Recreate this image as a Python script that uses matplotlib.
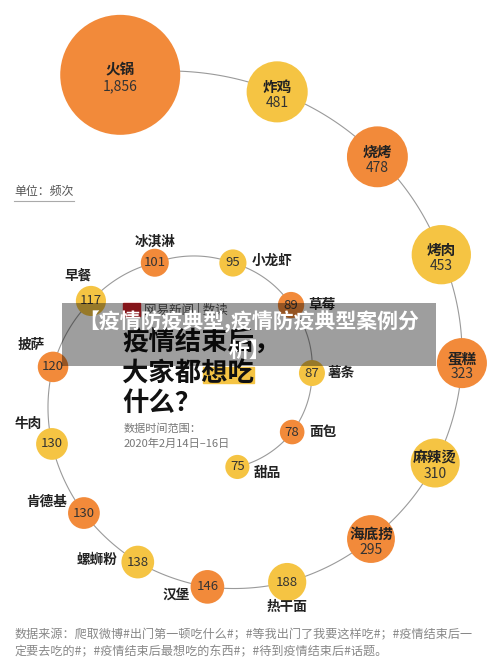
import numpy as np
import matplotlib.pyplot as plt
from matplotlib.patches import Circle, Rectangle

plt.rcParams['font.family'] = ['Noto Sans CJK SC', 'DejaVu Sans']

# Dados (频次)
nomes = ['火锅', '炸鸡', '烧烤', '烤肉', '蛋糕', '麻辣烫', '海底捞', '热干面', '汉堡', '螺蛳粉',
         '肯德基', '牛肉', '披萨', '早餐', '冰淇淋', '小龙虾', '草莓', '薯条', '面包', '甜品']
valores = [1856, 481, 478, 453, 323, 310, 295, 188, 146, 138,
           130, 130, 120, 117, 101, 95, 89, 87, 78, 75]

# Layout da espiral (ângulo em graus, raio em px) em torno de um centro
centro = (215, 370)
espiral_ang = [107.8, 77.4, 52.7, 27.0, 1.6, -22.9, -47.3, -71.2, -92.0, -111.9,
               -132.5, -155.6, -181.1, -209.1, -240.7, -279.5, -319.5, -361.8, -398.8, -437.0]
espiral_r = [310, 285, 268, 254, 247, 239, 230, 224, 217, 207,
             194, 179, 162, 142, 123, 108.5, 100, 97, 99, 99.5]

# posição do nome fora da bolha (dx, dy, ha) para as bolhas pequenas
rotulos = {
    '热干面': (0, 25, 'center'), '汉堡': (-18, 8, 'right'), '螺蛳粉': (-20, -2, 'right'),
    '肯德基': (-17, -11, 'right'), '牛肉': (-10, -20, 'right'), '披萨': (-8, -22, 'right'),
    '早餐': (-13, -25, 'center'), '冰淇淋': (0, -21, 'center'), '小龙虾': (19, -2, 'left'),
    '草莓': (17, 0, 'left'), '薯条': (16, 0, 'left'), '面包': (17, 0, 'left'),
    '甜品': (16, 6, 'left'),
}

laranja = '#F28A3A'
amarelo = '#F5C443'

fig = plt.figure(figsize=(5, 6.69), dpi=100)
ax = fig.add_axes([0, 0, 1, 1])
ax.set_xlim(0, 500)
ax.set_ylim(669, 0)
ax.axis('off')

ang = np.radians(espiral_ang)
rr = np.array(espiral_r)
xs = centro[0] + rr * np.cos(ang)
ys = centro[1] - rr * np.sin(ang)

# linha da espiral ligando as bolhas
for i in range(len(nomes) - 1):
    t = np.linspace(0, 1, 40)
    a = ang[i] + (ang[i + 1] - ang[i]) * t
    r = rr[i] + (rr[i + 1] - rr[i]) * t
    ax.plot(centro[0] + r * np.cos(a), centro[1] - r * np.sin(a), color='#9a9a9a', lw=0.8, zorder=1)

raio_max = 60
for i, (nome, v) in enumerate(zip(nomes, valores)):
    raio = raio_max * np.sqrt(v / valores[0])
    cor = laranja if i % 2 == 0 else amarelo
    ax.add_patch(Circle((xs[i], ys[i]), raio, color=cor, zorder=2, lw=0))
    txt = f'{v:,}'
    if nome in rotulos:
        ax.text(xs[i], ys[i], txt, ha='center', va='center', fontsize=9.5, color='#333333', zorder=3)
        dx, dy, ha = rotulos[nome]
        ax.text(xs[i] + dx, ys[i] + dy, nome, ha=ha, va='center', fontsize=9.8,
                fontweight='bold', color='#222222', zorder=3)
    else:
        ax.text(xs[i], ys[i] - 5, nome, ha='center', va='center', fontsize=10.5,
                fontweight='bold', color='#222222', zorder=3)
        ax.text(xs[i], ys[i] + 11, txt, ha='center', va='center', fontsize=10,
                color='#333333', zorder=3)

# unidade
ax.text(14, 192, '单位：频次', ha='left', va='center', fontsize=8.6, color='#555555')
ax.plot([14, 74], [201, 201], color='#aaaaaa', lw=0.8)

# título central
ax.add_patch(Rectangle((123, 303), 17, 13, color='#d8232a', zorder=2))
ax.text(144, 310, '网易新闻 | 数读', ha='left', va='center', fontsize=9, color='#555555', zorder=2)
ax.text(122, 343, '疫情结束后，', ha='left', va='center', fontsize=19, fontweight='bold', color='#111111')
ax.add_patch(Rectangle((203, 367), 51, 16, color=amarelo, zorder=1))
ax.text(122, 373, '大家都想吃', ha='left', va='center', fontsize=19, fontweight='bold', color='#111111', zorder=2)
ax.text(122, 403, '什么？', ha='left', va='center', fontsize=19, fontweight='bold', color='#111111')
ax.text(124, 429, '数据时间范围：', ha='left', va='center', fontsize=8, color='#777777')
ax.text(124, 444, '2020年2月14日–16日', ha='left', va='center', fontsize=8, color='#777777')

# faixa sobreposta
ax.add_patch(Rectangle((62, 303), 374, 63, color='black', alpha=0.38, lw=0, zorder=5))
ax.text(249, 322, '【疫情防疫典型,疫情防疫典型案例分', ha='center', va='center', fontsize=15,
        fontweight='bold', color='white', zorder=6)
ax.text(249, 350, '析】', ha='center', va='center', fontsize=15, fontweight='bold', color='white', zorder=6)

# fonte
ax.text(15, 635, '数据来源：爬取微博#出门第一顿吃什么#；#等我出门了我要这样吃#；#疫情结束后一',
        ha='left', va='center', fontsize=8.7, color='#888888')
ax.text(15, 652, '定要去吃的#；#疫情结束后最想吃的东西#；#待到疫情结束后#话题。',
        ha='left', va='center', fontsize=8.7, color='#888888')

fig.savefig('out.png', dpi=100)
